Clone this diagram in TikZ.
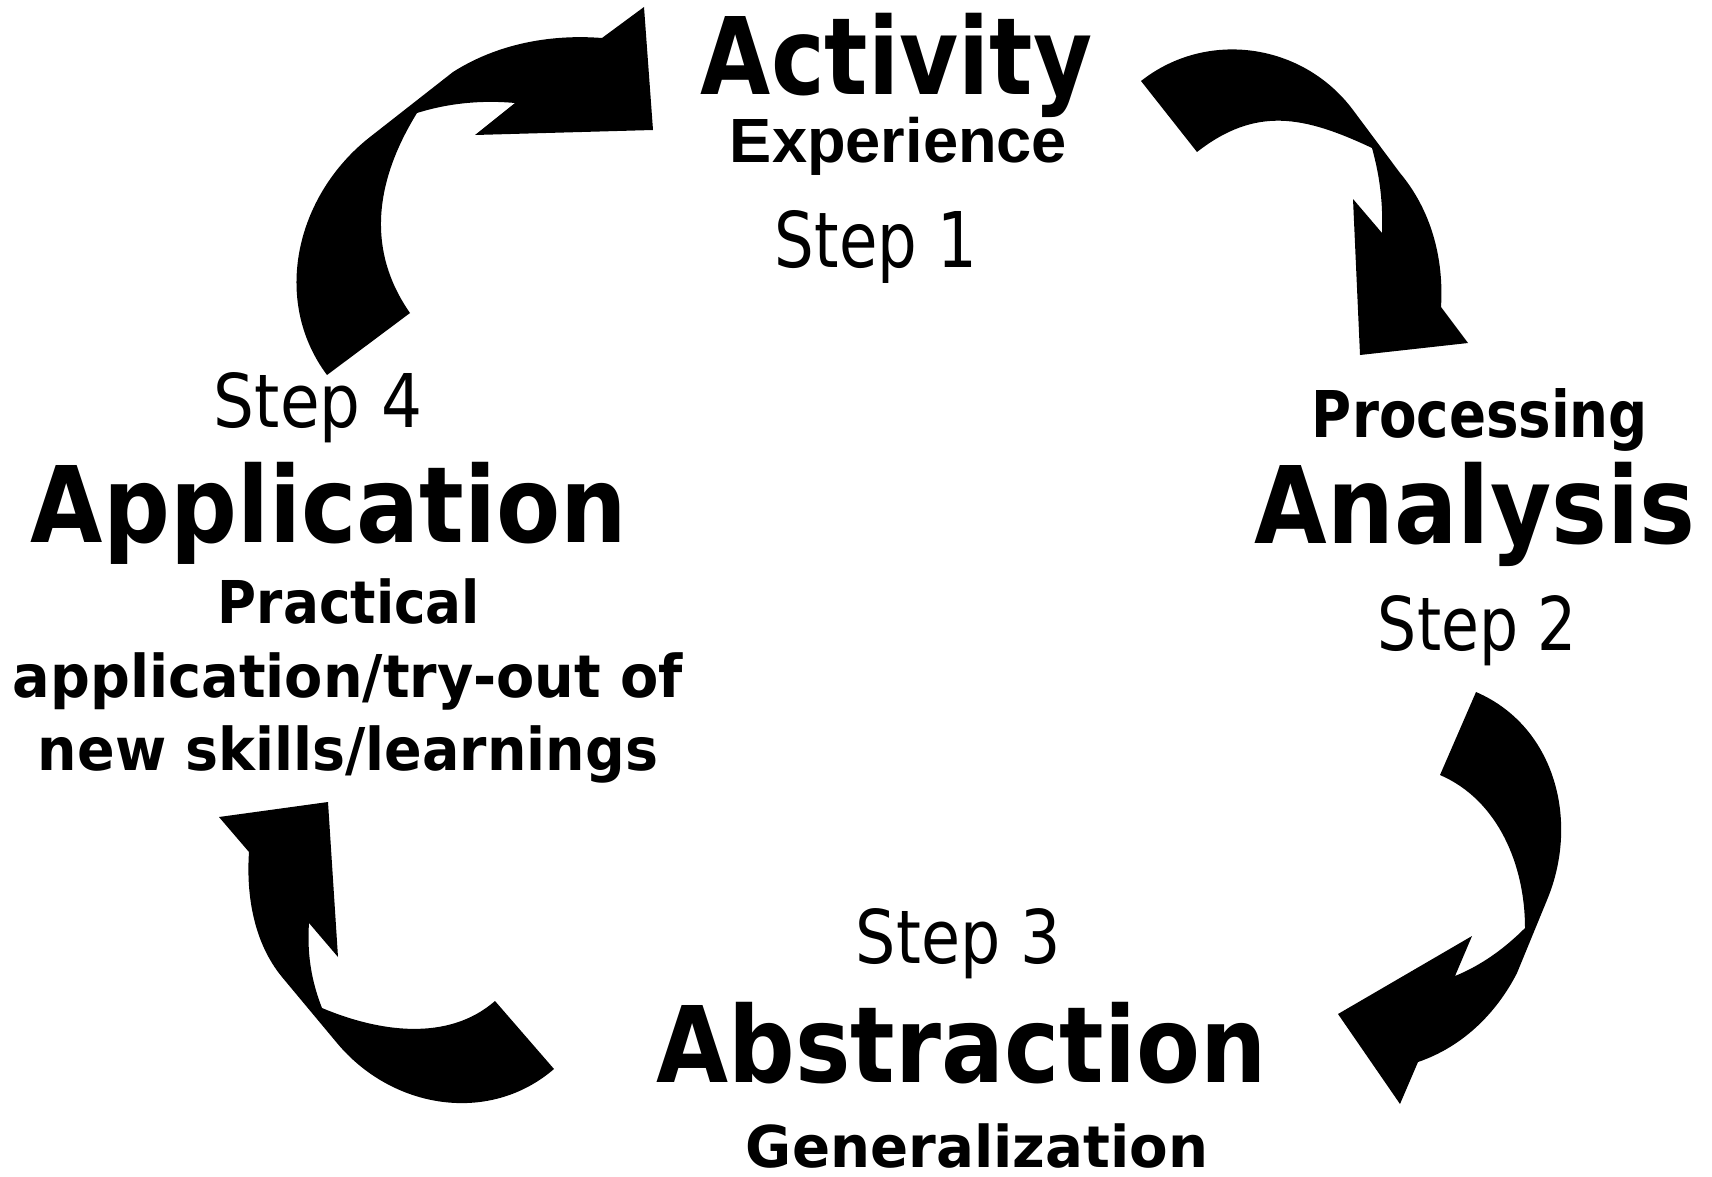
\documentclass[tikz,border=0pt]{standalone}
\usepackage{fontspec}
\setmainfont{DejaVu Sans}
\newfontfamily\arialfont{Liberation Sans}
\newcommand\fitt[3]{\resizebox{#1}{#2}{\raisebox{0pt}[\fontcharht\font`A][0pt]{#3}}}
\tikzset{
  arrowshape/.style={fill=black},
  lbl/.style={inner sep=0pt, anchor=base},
}
\begin{document}
\begin{tikzpicture}[x=1pt,y=-1pt]
\useasboundingbox (0,0) rectangle (1712,1177);
\fill[white] (0,0) rectangle (1712,1177);

% Arrow 1 (top-left, pointing right to Activity)
\fill[arrowshape] (327,375) -- (410,313)
  .. controls (366,250) and (375,181) .. (417,113)
  .. controls (449,103) and (482,100) .. (515,103)
  -- (475,135) -- (653,130) -- (644,7) -- (602,38)
  .. controls (550,34) and (497,44) .. (453,72)
  -- (370,137)
  .. controls (296,195) and (271,300) .. (327,375)
  -- cycle;

% Arrow 2 (top-right, pointing down to Processing)
\fill[arrowshape] (1141,81) -- (1197,152)
  .. controls (1256,106) and (1304,116) .. (1372,148)
  .. controls (1380,177) and (1383,203) .. (1382,233)
  -- (1353,199) -- (1360,355) -- (1468,343) -- (1441,307)
  .. controls (1444,258) and (1431,210) .. (1400,173)
  -- (1353,110)
  .. controls (1303,43) and (1207,29) .. (1141,81)
  -- cycle;

% Arrow 3 (right-bottom, pointing to Abstraction)
\fill[arrowshape] (1476,692) -- (1440,775)
  .. controls (1498,800) and (1525,865) .. (1525,928)
  .. controls (1505,948) and (1482,965) .. (1455,976)
  -- (1472,936) -- (1338,1014) -- (1400,1104) -- (1418,1062)
  .. controls (1462,1047) and (1496,1014) .. (1517,973)
  -- (1547,900)
  .. controls (1580,821) and (1555,726) .. (1476,692)
  -- cycle;

% Arrow 4 (bottom-left, pointing up to Application)
\fill[arrowshape] (219,817) -- (328,802) -- (338,957) -- (309,923)
  .. controls (307,953) and (311,980) .. (322,1008)
  .. controls (379,1032) and (448,1042) .. (495,1001)
  -- (554,1069)
  .. controls (489,1125) and (392,1109) .. (337,1043)
  -- (282,977)
  .. controls (254,943) and (246,896) .. (249,852)
  -- cycle;

% Step 1
\node[lbl, font=\bfseries] (activity) at (896.5,95) {\fitt{391pt}{78pt}{Activity}};
\node[lbl, font=\arialfont\bfseries] (experience) at (898.5,163) {\fitt{337pt}{43pt}{Experience}};
\node[lbl] (step1) at (876,267) {\fitt{202pt}{56pt}{Step 1}};

% Step 2
\node[lbl, font=\bfseries] (processing) at (1480,437) {\fitt{336pt}{47pt}{Processing}};
\node[lbl, font=\bfseries] (analysis) at (1475,543) {\fitt{440pt}{78pt}{Analysis}};
\node[lbl] (step2) at (1477.5,650) {\fitt{199pt}{54pt}{Step 2}};

% Step 3
\node[lbl] (step3) at (958.5,963) {\fitt{205pt}{54pt}{Step 3}};
\node[lbl, font=\bfseries] (abstraction) at (961.5,1082) {\fitt{609pt}{77pt}{Abstraction}};
\node[lbl, font=\bfseries] (generalization) at (977,1167) {\fitt{462pt}{42pt}{Generalization}};

% Step 4
\node[lbl] (step4) at (318,427) {\fitt{208pt}{54pt}{Step 4}};
\node[lbl, font=\bfseries] (application) at (329,542) {\fitt{596pt}{77pt}{Application}};
\node[lbl, font=\bfseries] (practical) at (349,623) {\fitt{262pt}{43pt}{Practical}};
\node[lbl, font=\bfseries] (tryout) at (348,697) {\fitt{670pt}{43pt}{application/try-out of}};
\node[lbl, font=\bfseries] (newskills) at (348,770) {\fitt{620pt}{43pt}{new skills/learnings}};
\end{tikzpicture}
\end{document}
